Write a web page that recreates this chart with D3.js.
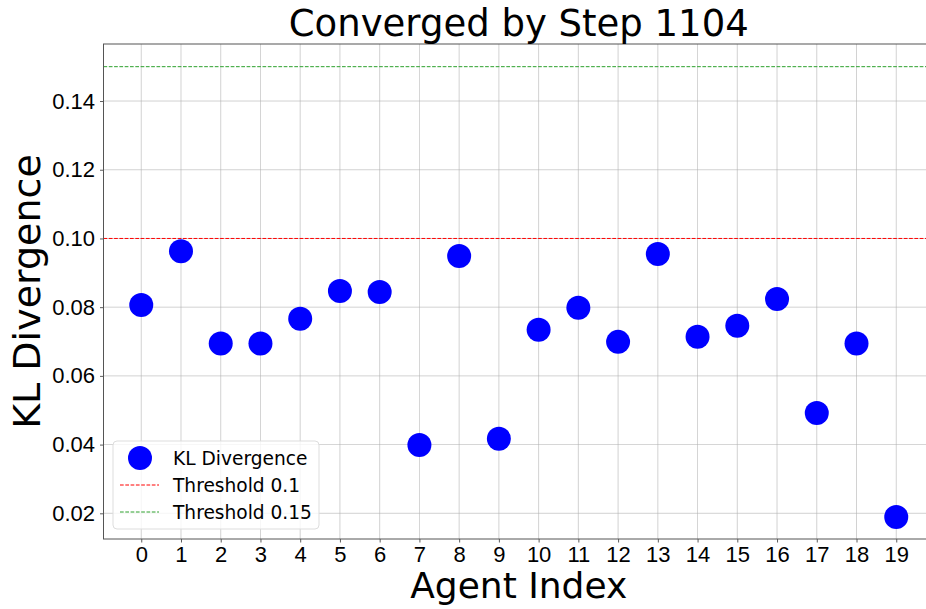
<!DOCTYPE html>
<html>
<head>
<meta charset="utf-8">
<script src="https://cdn.jsdelivr.net/npm/d3@7"></script>
<style>
  body { margin: 0; background: #fff; }
  svg { font-family: "DejaVu Sans", sans-serif; }
</style>
</head>
<body>
<svg id="chart" width="926" height="609"></svg>
<script>
// data
const agents = d3.range(20);
const klValues = [0.0806, 0.0963, 0.0694, 0.0694, 0.0766, 0.0847, 0.0844, 0.0399, 0.0949, 0.0417,
                  0.0734, 0.0798, 0.0699, 0.0955, 0.0714, 0.0746, 0.0824, 0.0492, 0.0694, 0.0189];
const yTicks = [0.02, 0.04, 0.06, 0.08, 0.10, 0.12, 0.14];
const thresholds = [
  { value: 0.1, label: "Threshold 0.1", color: "#ff0000" },
  { value: 0.15, label: "Threshold 0.15", color: "#2ca02c" }
];
const title = "Converged by Step 1104";

const svg = d3.select("#chart");
const plotLeft = 103.5, plotRight = 934, plotTop = 44, plotBottom = 539;

const x = d3.scaleLinear().domain([-0.95, 19.95]).range([plotLeft, plotRight]);
const y = d3.scaleLinear().domain([0.01252, 0.1566]).range([plotBottom, plotTop]);

// grid
svg.append("g").selectAll("line").data(agents).enter().append("line")
  .attr("x1", d => x(d)).attr("x2", d => x(d))
  .attr("y1", plotTop).attr("y2", plotBottom)
  .attr("stroke", "#b0b0b0").attr("stroke-width", 0.8).attr("opacity", 0.7);
svg.append("g").selectAll("line").data(yTicks).enter().append("line")
  .attr("x1", plotLeft).attr("x2", plotRight)
  .attr("y1", d => y(d)).attr("y2", d => y(d))
  .attr("stroke", "#b0b0b0").attr("stroke-width", 0.8).attr("opacity", 0.7);

// threshold lines
svg.append("g").selectAll("line").data(thresholds).enter().append("line")
  .attr("x1", plotLeft).attr("x2", plotRight)
  .attr("y1", d => y(d.value)).attr("y2", d => y(d.value))
  .attr("stroke", d => d.color).attr("stroke-width", 1)
  .attr("stroke-dasharray", "3.7,1.6");

// points
svg.append("g").selectAll("circle").data(klValues).enter().append("circle")
  .attr("cx", (d, i) => x(agents[i]))
  .attr("cy", d => y(d))
  .attr("r", 12)
  .attr("fill", "#0000ff");

// axes
const xAxis = svg.append("g")
  .attr("transform", `translate(0,${plotBottom})`)
  .call(d3.axisBottom(x).tickValues(agents).tickFormat(d3.format("d")).tickSize(3.5).tickPadding(4));
const yAxis = svg.append("g")
  .attr("transform", `translate(${plotLeft},0)`)
  .call(d3.axisLeft(y).tickValues(yTicks).tickFormat(d3.format(".2f")).tickSize(3.5).tickPadding(5));

[xAxis, yAxis].forEach(a => {
  a.select(".domain").remove();
  a.selectAll("line").attr("stroke", "#333").attr("stroke-width", 0.8);
  a.selectAll("text").attr("fill", "#000").style("font-size", "22px");
});

// spines
svg.append("rect")
  .attr("x", plotLeft).attr("y", plotTop)
  .attr("width", plotRight - plotLeft).attr("height", plotBottom - plotTop)
  .attr("fill", "none").attr("stroke", "#555").attr("stroke-width", 1);

// titles
svg.append("text")
  .attr("x", (plotLeft + plotRight) / 2).attr("y", 36)
  .attr("text-anchor", "middle")
  .style("font-size", "37px")
  .text(title);

svg.append("text")
  .attr("x", (plotLeft + plotRight) / 2).attr("y", 598)
  .attr("text-anchor", "middle")
  .style("font-size", "36px")
  .text("Agent Index");

svg.append("text")
  .attr("transform", `translate(40,${(plotTop + plotBottom) / 2}) rotate(-90)`)
  .attr("text-anchor", "middle")
  .style("font-size", "38px")
  .text("KL Divergence");

// legend
const legend = svg.append("g").attr("transform", "translate(113,441)");
legend.append("rect")
  .attr("width", 206).attr("height", 88).attr("rx", 4)
  .attr("fill", "#fff").attr("fill-opacity", 0.8)
  .attr("stroke", "#ddd");

const legendItems = [{ label: "KL Divergence", type: "dot", color: "#0000ff" }]
  .concat(thresholds.map(t => ({ label: t.label, type: "line", color: t.color })));

legendItems.forEach((item, i) => {
  const cy = 17 + i * 27;
  if (item.type === "dot") {
    legend.append("circle").attr("cx", 27).attr("cy", cy).attr("r", 12).attr("fill", item.color);
  } else {
    legend.append("line")
      .attr("x1", 7).attr("x2", 46).attr("y1", cy).attr("y2", cy)
      .attr("stroke", item.color).attr("stroke-width", 1)
      .attr("stroke-dasharray", "3.7,1.6");
  }
  legend.append("text")
    .attr("x", 60).attr("y", cy).attr("dy", "0.35em")
    .style("font-size", "18.6px")
    .text(item.label);
});
</script>
</body>
</html>
